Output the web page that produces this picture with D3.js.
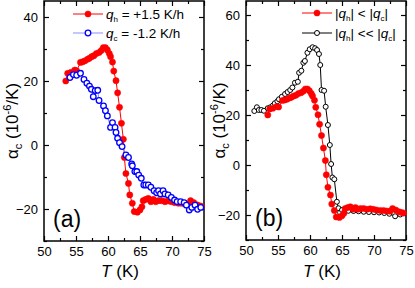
<!DOCTYPE html>
<html>
<head>
<meta charset="utf-8">
<script src="https://cdn.jsdelivr.net/npm/d3@7"></script>
<style>
body { margin:0; background:#fff; }
text { font-family: "Liberation Sans", Arial, sans-serif; }
</style>
</head>
<body>
<div id="chart"></div>
<script>
// heating run, q_h = +1.5 K/h (used in both panels)
var heatT = [53.4, 53.7, 54.2, 54.8, 55.1, 55.7, 56.05, 56.4, 56.8, 57.1, 57.45, 57.8, 58.2, 58.6, 58.95, 59.27, 59.6, 59.9, 60.2, 60.4, 60.7, 60.9, 61.25, 61.5, 61.8, 62.1, 62.4, 62.55, 62.8, 63.2, 63.4, 63.8, 64.1, 64.6, 65.0, 65.3, 65.5, 65.9, 66.3, 66.7, 67.1, 67.45, 67.9, 68.4, 68.9, 69.4, 69.9, 70.4, 71.0, 71.5, 72.0, 72.5, 72.9, 73.4, 73.9, 74.3, 74.6];
var heatA = [20, 22.4, 22.7, 23.4, 23.2, 25.8, 26, 26.3, 26.8, 27.1, 27.6, 27.9, 28.6, 28.9, 29.5, 30.4, 30.4, 29.7, 28.6, 27.6, 25.9, 23.1, 20.1, 16.3, 11.8, 6.8, 1.8, -3.9, -8.9, -12, -15.6, -18.2, -20.8, -21, -20.3, -19.3, -17.4, -17, -16.7, -17.7, -17, -17.7, -17.4, -17.4, -17.7, -17.5, -17.7, -18, -18.2, -18.2, -18.4, -18.5, -17.4, -18, -18.7, -19, -19.2];

// cooling run, q_c = -1.2 K/h (panel a)
var coolT = [54.06, 54.6, 55.1, 55.7, 56.25, 56.7, 57.1, 57.4, 57.7, 58.0, 58.4, 58.6, 59.3, 59.6, 59.9, 60.4, 60.7, 61.1, 61.25, 61.5, 61.8, 62.2, 62.8, 63.2, 63.7, 63.8, 64.2, 64.5, 64.8, 65.2, 65.6, 65.9, 66.3, 66.7, 67.2, 67.6, 67.9, 68.2, 68.6, 68.9, 69.4, 69.9, 70.4, 70.8, 71.35, 71.9, 72.25, 72.7, 73.1, 73.6, 74.0, 74.5];
var coolA = [21.1, 22, 21.8, 22.4, 20.5, 19.3, 18.4, 17.4, 15.1, 17, 17.1, 13.9, 12.2, 10.7, 9.1, 5.5, 7, 5.5, 3.9, 2.1, 0.7, -0.5, -3.1, -3.9, -5.9, -6.5, -8.3, -8.3, -9.4, -10.4, -12.5, -12.5, -12.5, -13.2, -14.3, -14.9, -14.3, -15.3, -14.3, -15.3, -15.6, -16.4, -17.2, -17.7, -17.7, -18, -18.8, -20.3, -19.5, -18.8, -20.1, -19.5];

// |q_h| << |q_c| run (panel b)
var slowT = [51.3, 51.7, 52.0, 52.4, 52.8, 53.4, 53.8, 54.2, 54.5, 54.9, 55.15, 55.6, 56.1, 56.5, 56.9, 57.25, 57.65, 58.1, 58.3, 58.65, 58.96, 59.2, 59.6, 59.95, 60.4, 60.8, 61.1, 61.4, 61.6, 61.8, 62.2, 62.45, 62.8, 63.1, 63.3, 63.5, 63.8, 64.2, 64.45, 64.7, 65.0, 65.5, 66.0, 66.8, 67.6, 68.4, 69.2, 70.0, 70.8, 71.6, 72.4, 73.3, 74.1];
var slowA = [21.6, 23.1, 22, 22, 21.7, 22.7, 23.1, 23.8, 24.7, 25.5, 26.3, 27.3, 28.4, 29.2, 30, 31, 32.9, 33.3, 36.9, 37.7, 40.9, 41.6, 44.9, 46.3, 47.1, 46.7, 46, 44.4, 40, 30, 29.7, 23.3, 16, 8, 0.4, -5, -5.7, -14.7, -17.3, -19, -18, -18.3, -18.3, -18.4, -18.5, -18.7, -18.8, -18.9, -19, -19.2, -19.5, -20.5, -19.8];

var xTicks = [50, 55, 60, 65, 70, 75];
var xMinor = [52.5, 57.5, 62.5, 67.5, 72.5];
var yTicksA = [-20, 0, 20, 40];
var yMinorA = [-30, -10, 10, 30];
var yTicksB = [-20, 0, 20, 40, 60];
var yMinorB = [-30, -10, 10, 30, 50];

var width = 415, height = 288;

var svg = d3.select('#chart').append('svg')
	.attr("width", width)
	.attr("height", height);

function zip(T, A) {
	return T.map(function(t, i){ return {t: t, a: A[i]}; });
}

function panel(opt) {
	var x = d3.scaleLinear().domain([50, 75]).range([opt.left, opt.left + 160]);
	var y = d3.scaleLinear().domain(opt.ydom).range([opt.bottom, opt.top]);
	var g = svg.append("g");

	// axes, ticks all pointing inside
	function ax(axis, tr, vals, size, labels) {
		var a = g.append("g").attr("transform", tr)
			.call(axis.tickValues(vals).tickSize(-size).tickPadding(6)
				.tickFormat(labels ? d3.format("d") : ""));
		a.select(".domain").remove();
		a.selectAll("line").attr("stroke-width", 1.2);
		a.selectAll("text").style("font-size", "13px").attr("fill", "#000")
			.style("font-family", '"Liberation Sans", Arial, sans-serif');
		return a;
	}
	var x0 = opt.left, x1 = opt.left + 160;
	ax(d3.axisBottom(x), "translate(0," + opt.bottom + ")", xTicks, 5, true);
	ax(d3.axisBottom(x), "translate(0," + opt.bottom + ")", xMinor, 3, false);
	ax(d3.axisTop(x), "translate(0," + opt.top + ")", xTicks, 5, false);
	ax(d3.axisTop(x), "translate(0," + opt.top + ")", xMinor, 3, false);
	ax(d3.axisLeft(y), "translate(" + x0 + ",0)", opt.yticks, 5, true);
	ax(d3.axisLeft(y), "translate(" + x0 + ",0)", opt.yminor, 3, false);
	ax(d3.axisRight(y), "translate(" + x1 + ",0)", opt.yticks, 5, false);
	ax(d3.axisRight(y), "translate(" + x1 + ",0)", opt.yminor, 3, false);

	g.append("rect")
		.attr("x", x0).attr("y", opt.top)
		.attr("width", 160).attr("height", opt.bottom - opt.top)
		.attr("fill", "none").attr("stroke", "#000").attr("stroke-width", 1.5);

	var line = d3.line().x(function(d){ return x(d.t); }).y(function(d){ return y(d.a); });

	opt.series.forEach(function(s) {
		var data = zip(s.T, s.A);
		g.append("path").datum(data)
			.attr("d", line)
			.attr("fill", "none")
			.attr("stroke", s.line)
			.attr("stroke-width", 1);
		g.selectAll(null).data(data).enter().append("circle")
			.attr("cx", function(d){ return x(d.t); })
			.attr("cy", function(d){ return y(d.a); })
			.attr("r", s.r)
			.attr("fill", s.fill)
			.attr("stroke", s.stroke)
			.attr("stroke-width", s.sw);
	});

	// legend
	opt.legend.forEach(function(l, i) {
		var ly = opt.legY[i];
		g.append("line")
			.attr("x1", opt.legX).attr("x2", opt.legX + 30)
			.attr("y1", ly).attr("y2", ly)
			.attr("stroke", l.s.line).attr("stroke-width", 1);
		g.append("circle")
			.attr("cx", opt.legX + 15).attr("cy", ly).attr("r", l.s.r)
			.attr("fill", l.s.fill).attr("stroke", l.s.stroke).attr("stroke-width", l.s.sw);
		var t = g.append("text")
			.attr("x", opt.legX + 33).attr("y", ly + 5)
			.style("font-size", "13.5px");
		l.parts.forEach(function(p) {
			var ts = t.append("tspan").text(p[0]);
			if (p[1] == "i") ts.style("font-style", "italic");
			if (p[1] == "sub") ts.style("font-size", "8px").attr("dy", 3);
			if (p[1] == "after") ts.attr("dy", -3);
		});
	});

	// panel letter
	g.append("text")
		.attr("x", x0 + 9).attr("y", opt.bottom - 14)
		.style("font-size", "23px")
		.text(opt.letter);

	// axis titles
	var xt = g.append("text")
		.attr("x", x0 + 76).attr("y", 277)
		.attr("text-anchor", "middle")
		.style("font-size", "17px");
	xt.append("tspan").style("font-style", "italic").text("T");
	xt.append("tspan").text(" (K)");

	var yt = g.append("text")
		.attr("transform", "translate(" + opt.ytx + "," + ((opt.top + opt.bottom) / 2) + ") rotate(-90)")
		.attr("text-anchor", "middle")
		.style("font-size", "17px");
	yt.append("tspan").text("\u03b1");
	yt.append("tspan").style("font-size", "11px").attr("dy", 4).text("c");
	yt.append("tspan").attr("dy", -4).text(" (10");
	yt.append("tspan").style("font-size", "11px").attr("dy", -7).text("-6");
	yt.append("tspan").attr("dy", 7).text("/K)");
}

var redS = {T: heatT, A: heatA, line: "#ff0000", fill: "#ff0000", stroke: "#ff0000", r: 3.1, sw: 0.5};
var blueS = {T: coolT, A: coolA, line: "#8c8cff", fill: "#fff", stroke: "#0000ff", r: 2.8, sw: 1.3};
var blackS = {T: slowT, A: slowA, line: "#000", fill: "#fff", stroke: "#000", r: 2.5, sw: 1};

panel({
	left: 44, top: 1, bottom: 241, ydom: [-30, 45],
	yticks: yTicksA, yminor: yMinorA, letter: "(a)", ytx: 18,
	series: [redS, blueS],
	legX: 73, legY: [14, 33],
	legend: [
		{s: redS, parts: [["q", "i"], ["h", "sub"], [" = +1.5 K/h", "after"]]},
		{s: blueS, parts: [["q", "i"], ["c", "sub"], [" = -1.2 K/h", "after"]]}
	]
});

panel({
	left: 246, top: 1, bottom: 240, ydom: [-30, 65.6],
	yticks: yTicksB, yminor: yMinorB, letter: "(b)", ytx: 225,
	series: [blackS, redS],
	legX: 302, legY: [13, 33],
	legend: [
		{s: redS, parts: [["|", ""], ["q", "i"], ["h", "sub"], ["| < |", "after"], ["q", "i"], ["c", "sub"], ["|", "after"]]},
		{s: blackS, parts: [["|", ""], ["q", "i"], ["h", "sub"], ["| << |", "after"], ["q", "i"], ["c", "sub"], ["|", "after"]]}
	]
});
</script>
</body>
</html>
